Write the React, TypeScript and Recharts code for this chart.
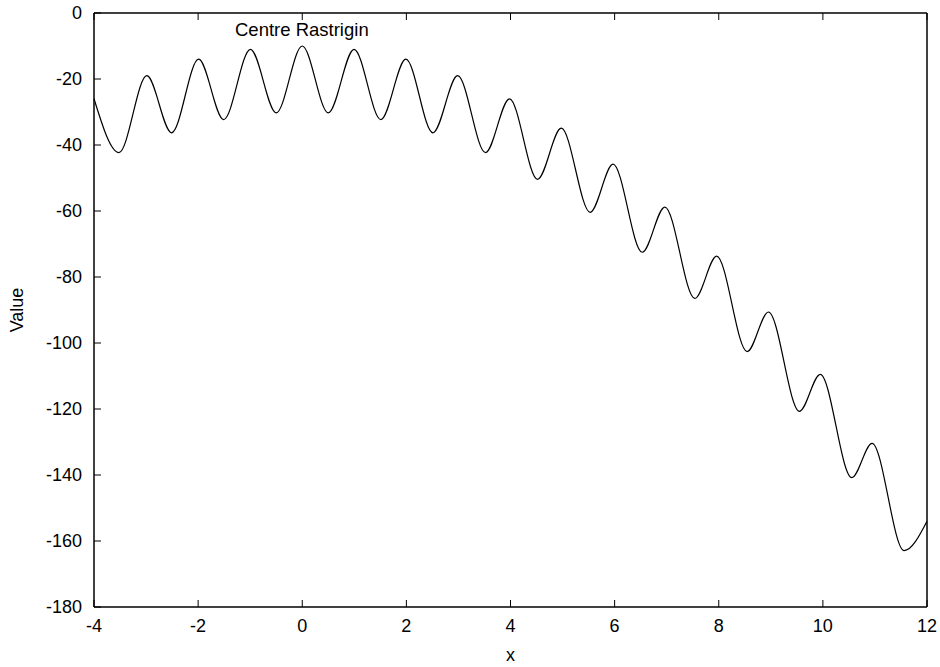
import React from "react";
import { LineChart, Line, XAxis, YAxis, Legend, Label } from "recharts";

// Curve: the start, every peak and trough, and the end
const xPoints = [
  -4, -3.52, -2.985, -2.51, -1.99, -1.51, -0.995, -0.5, 0, 0.5, 0.995, 1.51,
  1.99, 2.51, 2.985, 3.52, 3.98, 4.52, 4.975, 5.53, 5.97, 6.53, 6.965, 7.54,
  7.96, 8.545, 8.955, 9.55, 9.95, 10.555, 10.945, 11.56, 12,
];
const values = [
  -26, -42.3, -19, -36.3, -14, -32.3, -11, -30.25, -10, -30.25, -11, -32.3,
  -14, -36.3, -19, -42.3, -26, -50.4, -34.9, -60.4, -45.8, -72.5, -58.8, -86.5,
  -73.7, -102.6, -90.6, -120.7, -109.5, -140.8, -130.4, -162.9, -154,
];

const xTicks = [-4, -2, 0, 2, 4, 6, 8, 10, 12];
const yTicks = [0, -20, -40, -60, -80, -100, -120, -140, -160, -180];

const seriesName = "Centre Rastrigin";
const xTitle = "x";
const yTitle = "Value";

const data = xPoints.map((x, i) => ({ x, y: values[i] }));

const FONT = "'Liberation Sans', Arial, Helvetica, sans-serif";
const FS = 18;
const tickText = { fill: "#000", fontSize: FS, fontFamily: FONT };
const frame = { stroke: "#000", strokeWidth: 1.5 };
const tickMark = { stroke: "#000", strokeWidth: 1 };

// mirror axes keep their tick marks but show no labels
const NoLabel = () => <g />;

export default function App() {
  return (
    <div style={{ position: "absolute", left: 0, top: 0, width: 940, height: 667, background: "#fff" }}>
      <LineChart
        width={940}
        height={667}
        data={data}
        margin={{ top: 12, right: 12, bottom: 0, left: 0 }}
      >
        {/* gnuplot style: ticks point into the plot, mirrored on top/right */}
        <XAxis
          dataKey="x"
          type="number"
          domain={[-4, 12]}
          ticks={xTicks}
          interval={0}
          height={60}
          stroke="#000"
          tickSize={-7}
          tickMargin={19}
          tick={tickText}
          tickLine={tickMark}
          axisLine={frame}
        >
          <Label value={xTitle} position="center" dy={18} fontFamily={FONT} fontSize={FS} fill="#000" />
        </XAxis>
        <XAxis
          xAxisId="top"
          orientation="top"
          dataKey="x"
          type="number"
          domain={[-4, 12]}
          ticks={xTicks}
          interval={0}
          height={1}
          stroke="#000"
          tickSize={-7}
          tick={<NoLabel />}
          tickLine={tickMark}
          axisLine={frame}
        />
        <YAxis
          type="number"
          domain={[-180, 0]}
          ticks={yTicks}
          interval={0}
          width={94}
          stroke="#000"
          tickSize={-7}
          tickMargin={19}
          tick={tickText}
          tickLine={tickMark}
          axisLine={frame}
          label={{
            content: (p: any) => {
              const vb = p.viewBox || { x: 0, y: 13, height: 594 };
              const cx = vb.x + 17;
              const cy = vb.y + vb.height / 2;
              return (
                <text
                  x={cx}
                  y={cy}
                  transform={`rotate(-90 ${cx} ${cy})`}
                  textAnchor="middle"
                  dominantBaseline="central"
                  fontFamily={FONT}
                  fontSize={FS}
                  fill="#000"
                >
                  {yTitle}
                </text>
              );
            },
          }}
        />
        <YAxis
          yAxisId="right"
          orientation="right"
          type="number"
          domain={[-180, 0]}
          ticks={yTicks}
          interval={0}
          width={1}
          stroke="#000"
          tickSize={-7}
          tick={<NoLabel />}
          tickLine={tickMark}
          axisLine={frame}
        />
        <Legend
          layout="vertical"
          verticalAlign="middle"
          align="center"
          wrapperStyle={{ position: "absolute", left: 235, top: 20, width: "auto", height: "auto" }}
          content={() => (
            <div style={{ fontFamily: FONT, fontSize: 18.5, lineHeight: "20px", color: "#000", whiteSpace: "nowrap" }}>
              {seriesName}
            </div>
          )}
        />
        <Line
          type="monotone"
          dataKey="y"
          name={seriesName}
          stroke="#000"
          strokeWidth={1.2}
          dot={false}
          activeDot={false}
          isAnimationActive={false}
        />
      </LineChart>
    </div>
  );
}
